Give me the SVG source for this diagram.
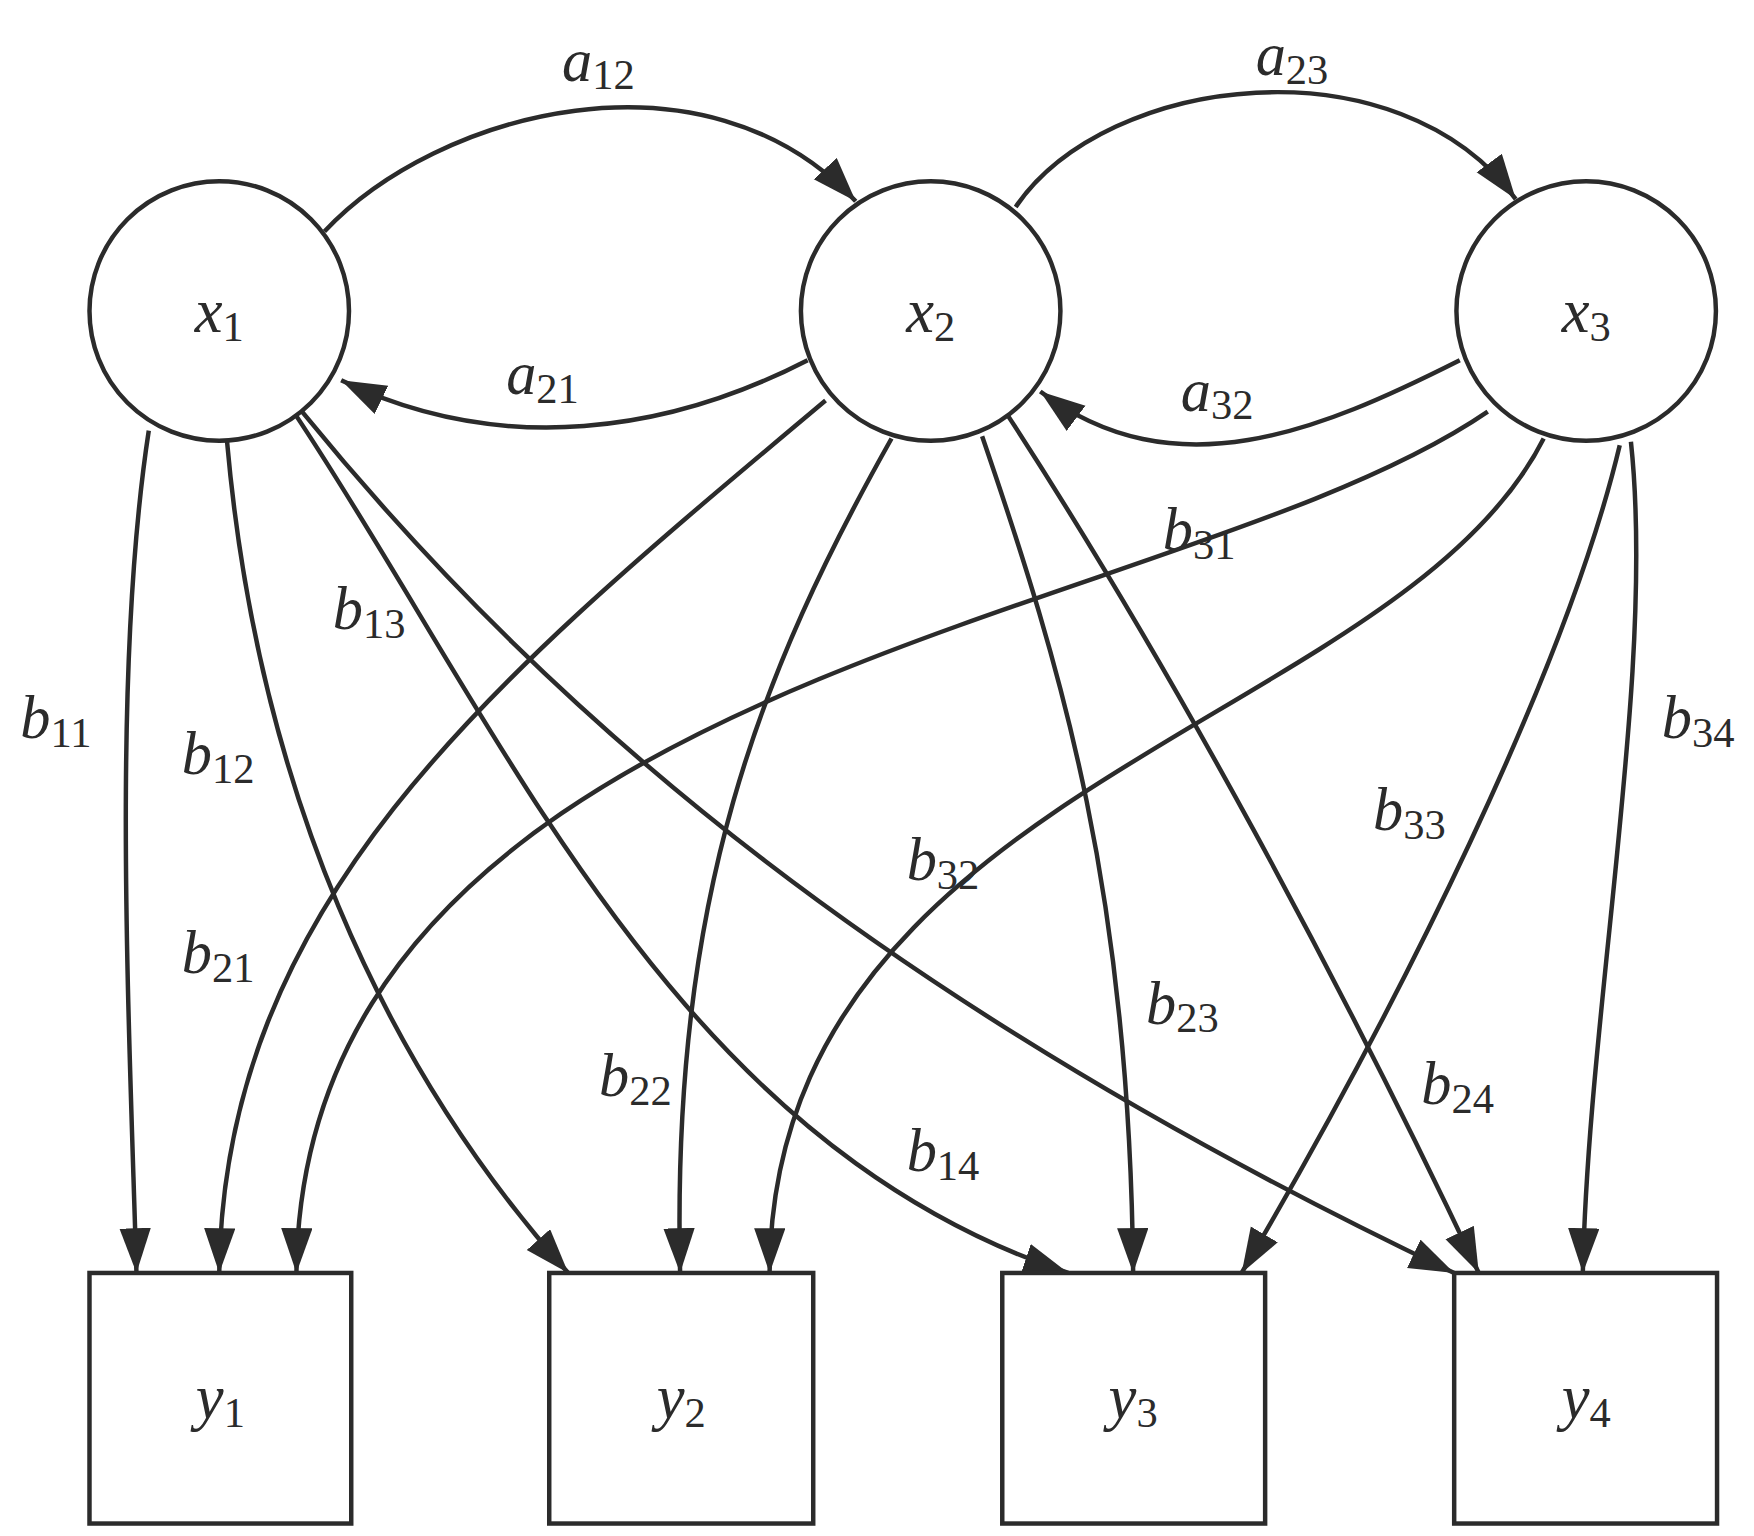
<svg xmlns="http://www.w3.org/2000/svg" width="1754" height="1536" viewBox="0 0 1754 1536">
<style>
.n{fill:#fff;stroke:#2b2b2b;stroke-width:4}
.e{fill:none;stroke:#2b2b2b;stroke-width:4;marker-end:url(#ah)}
text{font-family:"Liberation Serif","DejaVu Serif",serif;font-style:italic;fill:#2b2b2b;text-anchor:middle}
.t{font-size:56px}.l{font-size:54px}
.s{font-style:normal;font-size:38px}
</style>
<defs><marker id="ah" markerUnits="userSpaceOnUse" markerWidth="44" markerHeight="30" refX="40" refY="14" orient="auto"><path d="M0,0 L40,14 L0,28 Z" fill="#2b2b2b"/></marker></defs>
<rect width="1754" height="1536" fill="#fff"/>
<g transform="scale(1.1186)">
<g id="connectors">
<path class="e" d="M290,207 C390,100 630,35 765,180"/>
<path class="e" d="M722,322 C600,385 450,410 305,340"/>
<path class="e" d="M908,185 C990,65 1250,35 1355,178"/>
<path class="e" d="M1305,322 C1180,385 1050,440 930,350"/>
<path class="e" d="M133,385 C100,600 115,900 122,1138"/>
<path class="e" d="M203,395 C230,700 340,950 508,1138"/>
<path class="e" d="M265,372 C450,650 600,1020 955,1138"/>
<path class="e" d="M270,368 C500,650 800,900 1300,1138"/>
<path class="e" d="M738,358 C450,600 200,800 196,1138"/>
<path class="e" d="M797,392 C680,600 600,800 608,1138"/>
<path class="e" d="M878,390 C950,600 1010,800 1013,1138"/>
<path class="e" d="M900,370 C1050,600 1200,880 1322,1138"/>
<path class="e" d="M1330,368 C1050,560 270,600 265,1138"/>
<path class="e" d="M1380,392 C1250,650 690,700 688,1138"/>
<path class="e" d="M1448,398 C1400,600 1250,900 1110,1138"/>
<path class="e" d="M1458,395 C1480,600 1420,900 1415,1138"/>
</g>
<g id="x1"><circle class="n" cx="196" cy="278" r="116"/><text class="t" x="196" y="297">x<tspan class="s" dy="8">1</tspan></text></g>
<g id="x2"><circle class="n" cx="832" cy="278" r="116"/><text class="t" x="832" y="297">x<tspan class="s" dy="8">2</tspan></text></g>
<g id="x3"><circle class="n" cx="1418" cy="278" r="116"/><text class="t" x="1418" y="297">x<tspan class="s" dy="8">3</tspan></text></g>
<g id="y1"><rect class="n" x="80" y="1138" width="234" height="224"/><text class="t" x="197" y="1268">y<tspan class="s" dy="8">1</tspan></text></g>
<g id="y2"><rect class="n" x="491" y="1138" width="236" height="224"/><text class="t" x="609" y="1268">y<tspan class="s" dy="8">2</tspan></text></g>
<g id="y3"><rect class="n" x="896" y="1138" width="235" height="224"/><text class="t" x="1013" y="1268">y<tspan class="s" dy="8">3</tspan></text></g>
<g id="y4"><rect class="n" x="1300" y="1138" width="235" height="224"/><text class="t" x="1418" y="1268">y<tspan class="s" dy="8">4</tspan></text></g>
<g id="labels">
<text class="l" x="535" y="72">a<tspan class="s" dy="8">12</tspan></text>
<text class="l" x="485" y="352">a<tspan class="s" dy="8">21</tspan></text>
<text class="l" x="1155" y="67">a<tspan class="s" dy="8">23</tspan></text>
<text class="l" x="1088" y="367">a<tspan class="s" dy="8">32</tspan></text>
<text class="l" x="50" y="660">b<tspan class="s" dy="8">11</tspan></text>
<text class="l" x="195" y="692">b<tspan class="s" dy="8">12</tspan></text>
<text class="l" x="330" y="562">b<tspan class="s" dy="8">13</tspan></text>
<text class="l" x="195" y="870">b<tspan class="s" dy="8">21</tspan></text>
<text class="l" x="568" y="980">b<tspan class="s" dy="8">22</tspan></text>
<text class="l" x="843" y="1047">b<tspan class="s" dy="8">14</tspan></text>
<text class="l" x="843" y="787">b<tspan class="s" dy="8">32</tspan></text>
<text class="l" x="1057" y="915">b<tspan class="s" dy="8">23</tspan></text>
<text class="l" x="1303" y="987">b<tspan class="s" dy="8">24</tspan></text>
<text class="l" x="1260" y="742">b<tspan class="s" dy="8">33</tspan></text>
<text class="l" x="1072" y="492">b<tspan class="s" dy="8">31</tspan></text>
<text class="l" x="1518" y="660">b<tspan class="s" dy="8">34</tspan></text>
</g>
</g>
</svg>
